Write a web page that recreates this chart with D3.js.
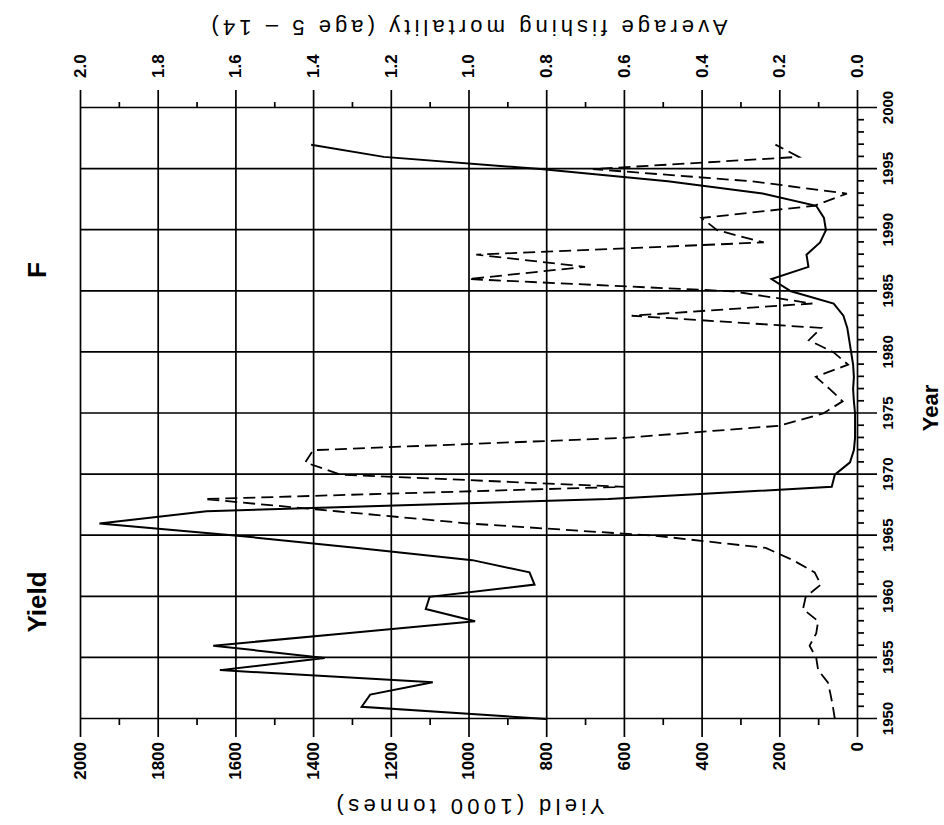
<!DOCTYPE html>
<html>
<head>
<meta charset="utf-8">
<script src="https://cdn.jsdelivr.net/npm/d3@7"></script>
<style>
  body { margin: 0; background: #fff; }
  svg { display: block; font-family: "Liberation Sans", Arial, Helvetica, sans-serif; }
</style>
</head>
<body>
<script>
(function() {

    // Yield and fishing mortality by year. The scanned figure is turned a
    // quarter to the left, so the chart is drawn upright in its own frame
    // and the whole frame is rotated at the end.

    var width = 944,
        height = 825,
        plotW = 611,   // year direction
        plotH = 777;   // value direction

    var years = [1950, 1951, 1952, 1953, 1954, 1955, 1956, 1957, 1958, 1959,
                 1960, 1961, 1962, 1963, 1964, 1965, 1966, 1967, 1968, 1969,
                 1970, 1971, 1972, 1973, 1974, 1975, 1976, 1977, 1978, 1979,
                 1980, 1981, 1982, 1983, 1984, 1985, 1986, 1987, 1988, 1989,
                 1990, 1991, 1992, 1993, 1994, 1995, 1996, 1997];

    // Yield (1000 tonnes)
    var yieldKt = [800, 1275, 1253, 1092, 1640, 1370, 1657, 1320, 983, 1110,
                   1100, 830, 843, 990, 1285, 1595, 1950, 1674, 640, 65,
                   57, 18, 8, 5, 5, 5, 8, 10, 8, 10,
                   15, 20, 25, 35, 60, 170, 220, 125, 130, 95,
                   80, 85, 105, 243, 487, 815, 1218, 1405];

    // Average fishing mortality (age 5 - 14)
    var fishingF = [0.057, 0.062, 0.068, 0.075, 0.100, 0.105, 0.122, 0.105, 0.100, 0.139,
                    0.132, 0.093, 0.109, 0.165, 0.235, 0.52, 1.00, 1.34, 1.68, 0.60,
                    1.33, 1.42, 1.40, 0.60, 0.20, 0.087, 0.037, 0.07, 0.106, 0.023,
                    0.06, 0.124, 0.092, 0.58, 0.115, 0.32, 1.00, 0.70, 0.98, 0.24,
                    0.36, 0.40, 0.11, 0.026, 0.27, 0.68, 0.15, 0.21];

    var yearTicks = [1950, 1955, 1960, 1965, 1970, 1975, 1980, 1985, 1990, 1995, 2000];
    var yearMinor = [1951, 1952, 1953, 1954, 1956, 1957, 1958, 1959, 1961, 1962, 1963, 1964,
                     1966, 1967, 1968, 1969, 1971, 1972, 1973, 1974, 1976, 1977, 1978, 1979,
                     1981, 1982, 1983, 1984, 1986, 1987, 1988, 1989, 1991, 1992, 1993, 1994,
                     1996, 1997, 1998, 1999];
    var yieldTicks = [0, 200, 400, 600, 800, 1000, 1200, 1400, 1600, 1800, 2000];
    var yieldMinor = [100, 300, 500, 700, 900, 1100, 1300, 1500, 1700, 1900];
    var fTicks = [0.0, 0.2, 0.4, 0.6, 0.8, 1.0, 1.2, 1.4, 1.6, 1.8, 2.0];
    var fMinor = [0.1, 0.3, 0.5, 0.7, 0.9, 1.1, 1.3, 1.5, 1.7, 1.9];

    var svg = d3.select("body")
        .append("svg")
        .attr("width", width)
        .attr("height", height);

    // chart frame, turned so that the year axis ends up on the right
    var g = svg.append("g")
        .attr("transform", "translate(80,719) rotate(-90)");

    var x = d3.scaleLinear().domain([1950, 2000]).range([0, plotW]);
    var y = d3.scaleLinear().domain([0, 2000]).range([plotH, 0]);
    var yF = d3.scaleLinear().domain([0, 2]).range([plotH, 0]);

    var styleAxis = function(sel, size) {
        sel.attr("font-family", null).attr("font-size", size);
        sel.select(".domain").remove();
        sel.selectAll("line").attr("stroke", "#000").attr("stroke-width", 1.7);
        sel.selectAll("text").attr("fill", "#000").attr("font-weight", "bold");
    };

    // year grid, running a little past the year axis
    g.append("g")
        .attr("transform", "translate(0," + (plotH + 20) + ")")
        .call(d3.axisBottom(x).tickValues(yearTicks)
            .tickSize(-(plotH + 20)).tickPadding(5).tickFormat(d3.format("d")))
        .call(styleAxis, 15);

    // yield grid, past both value axes
    g.append("g")
        .attr("transform", "translate(-18,0)")
        .call(d3.axisLeft(y).tickValues(yieldTicks)
            .tickSize(-(plotW + 36)).tickPadding(5).tickFormat(d3.format("d")))
        .call(styleAxis, 17);

    // F labels on the far side
    g.append("g")
        .attr("transform", "translate(" + (plotW + 18) + ",0)")
        .call(d3.axisRight(yF).tickValues(fTicks)
            .tickSize(0).tickPadding(12).tickFormat(d3.format(".1f")))
        .call(styleAxis, 17);

    // minor ticks
    g.append("g")
        .attr("transform", "translate(0," + plotH + ")")
        .call(d3.axisBottom(x).tickValues(yearMinor).tickSize(7).tickFormat(""))
        .call(styleAxis, 10);
    g.append("g")
        .call(d3.axisLeft(y).tickValues(yieldMinor).tickSize(6).tickFormat(""))
        .call(styleAxis, 10);
    g.append("g")
        .attr("transform", "translate(" + plotW + ",0)")
        .call(d3.axisRight(yF).tickValues(fMinor).tickSize(6).tickFormat(""))
        .call(styleAxis, 10);

    // series
    var yieldLine = d3.line()
        .x(function(d, i) { return x(years[i]); })
        .y(function(d) { return y(d); });
    var fLine = d3.line()
        .x(function(d, i) { return x(years[i]); })
        .y(function(d) { return yF(d); });

    g.append("path")
        .datum(yieldKt)
        .attr("d", yieldLine)
        .attr("fill", "none")
        .attr("stroke", "#000")
        .attr("stroke-width", 2)
        .attr("stroke-linejoin", "miter");

    g.append("path")
        .datum(fishingF)
        .attr("d", fLine)
        .attr("fill", "none")
        .attr("stroke", "#000")
        .attr("stroke-width", 1.8)
        .attr("stroke-dasharray", "12,6");

    // titles
    g.append("text")
        .attr("transform", "translate(-80," + (plotH / 2 + 2) + ") rotate(-90)")
        .attr("text-anchor", "middle")
        .attr("font-size", 22)
        .attr("textLength", 268)
        .attr("lengthAdjust", "spacing")
        .text("Yield (1000 tonnes)");

    g.append("text")
        .attr("transform", "translate(" + (plotW + 88) + "," + (plotH / 2 + 1) + ") rotate(-90)")
        .attr("text-anchor", "middle")
        .attr("font-size", 22)
        .attr("textLength", 516)
        .attr("lengthAdjust", "spacing")
        .text("Average fishing mortality (age 5 \u2013 14)");

    g.append("text")
        .attr("x", 311)
        .attr("y", plotH + 81)
        .attr("text-anchor", "middle")
        .attr("font-size", 22)
        .attr("font-weight", "bold")
        .text("Year");

    g.append("text")
        .attr("x", 117)
        .attr("y", -34)
        .attr("text-anchor", "middle")
        .attr("font-size", 26)
        .attr("font-weight", "bold")
        .text("Yield");

    g.append("text")
        .attr("x", 449)
        .attr("y", -34)
        .attr("text-anchor", "middle")
        .attr("font-size", 26)
        .attr("font-weight", "bold")
        .text("F");

})();
</script>
</body>
</html>
